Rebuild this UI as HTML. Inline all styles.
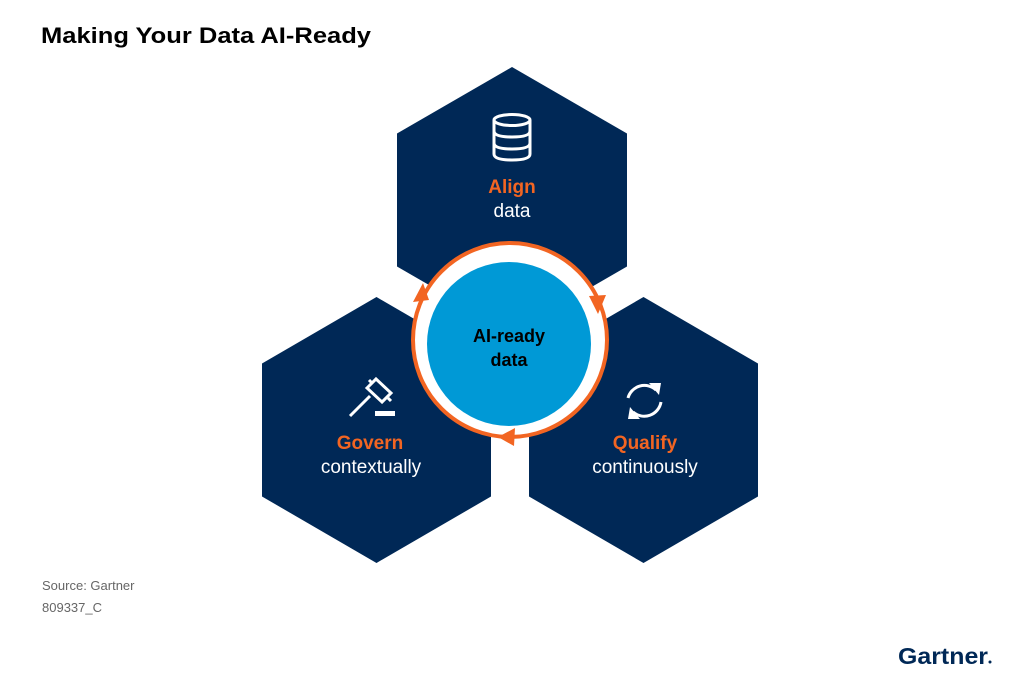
<!DOCTYPE html>
<html><head><meta charset="utf-8"><style>
html,body{margin:0;padding:0;background:#fff;}
svg{display:block;}
text{font-family:"Liberation Sans",sans-serif;}
</style></head><body>
<svg width="1024" height="683" viewBox="0 0 1024 683" xmlns="http://www.w3.org/2000/svg">
<rect width="1024" height="683" fill="#fff"/>
<text x="41" y="43" font-size="22" font-weight="bold" fill="#000" textLength="330" lengthAdjust="spacingAndGlyphs">Making Your Data AI-Ready</text>
<polygon points="512,67 627,133.5 627,266.5 512,333 397,266.5 397,133.5" fill="#002856"/>
<polygon points="376.5,297 491,363.5 491,496.5 376.5,563 262,496.5 262,363.5" fill="#002856"/>
<polygon points="643.5,297 758,363.5 758,496.5 643.5,563 529,496.5 529,363.5" fill="#002856"/>
<circle cx="510" cy="340" r="97" fill="#fff" stroke="#f26522" stroke-width="4"/>
<circle cx="509" cy="344" r="82" fill="#0099d6"/>
<polygon points="423,283 413,302 429,300" fill="#f26522"/>
<polygon points="598,314 589,296 606,295" fill="#f26522"/>
<polygon points="498,437 515,428 514,446" fill="#f26522"/>
<text x="509" y="342" font-size="18" font-weight="bold" text-anchor="middle" fill="#000">AI-ready</text>
<text x="509" y="366" font-size="18" font-weight="bold" text-anchor="middle" fill="#000">data</text>
<g fill="none" stroke="#fff" stroke-width="3">
<ellipse cx="512" cy="120" rx="18" ry="5.5"/>
<path d="M494,120 V154 Q494,160 512,160 Q530,160 530,154 V120"/>
<path d="M494,131 Q494,137 512,137 Q530,137 530,131"/>
<path d="M494,143 Q494,149 512,149 Q530,149 530,143"/>
</g>
<text x="512" y="193" font-size="19" font-weight="bold" text-anchor="middle" fill="#f26522">Align</text>
<text x="512" y="217" font-size="19" text-anchor="middle" fill="#fff">data</text>
<g fill="none" stroke="#fff" stroke-width="3">
<path d="M350,416 L370,396"/>
<polygon points="367,388 376,379 391,393 382,402"/>
<path d="M372,383 L369,380 M388,398 L391,401"/>
</g>
<rect x="375" y="411" width="20" height="5" fill="#fff"/>
<text x="370" y="449" font-size="19" font-weight="bold" text-anchor="middle" fill="#f26522">Govern</text>
<text x="371" y="473" font-size="19" text-anchor="middle" fill="#fff">contextually</text>
<g fill="none" stroke="#fff" stroke-width="3">
<path d="M628,398 A17,17 0 0 1 656,390"/>
<path d="M661,402 A17,17 0 0 1 633,412"/>
</g>
<polygon points="649,383 661,383 659,395" fill="#fff"/>
<polygon points="640,419 628,419 630,407" fill="#fff"/>
<text x="645" y="449" font-size="19" font-weight="bold" text-anchor="middle" fill="#f26522">Qualify</text>
<text x="645" y="473" font-size="19" text-anchor="middle" fill="#fff">continuously</text>
<text x="42" y="590" font-size="13" fill="#666">Source: Gartner</text>
<text x="42" y="612" font-size="13" fill="#666">809337_C</text>
<text x="898" y="664" font-size="23" font-weight="bold" fill="#002856" textLength="90" lengthAdjust="spacingAndGlyphs">Gartner</text>
<circle cx="990" cy="662" r="1.5" fill="#002856"/>
</svg>
</body></html>
